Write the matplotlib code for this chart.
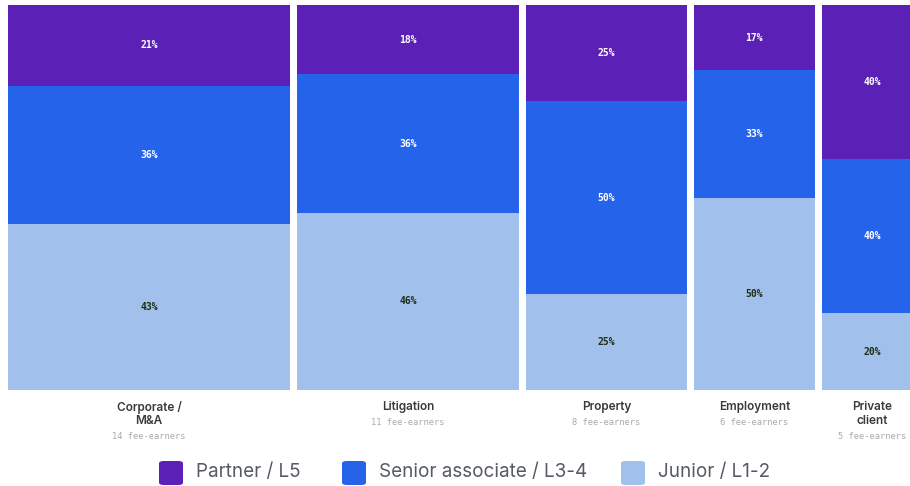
import matplotlib
import matplotlib.pyplot as plt
from matplotlib.patches import FancyBboxPatch

# practice areas, headcount and seniority mix (%)
areas = ["Corporate /\nM&A", "Litigation", "Property", "Employment", "Private\nclient"]
fee_earners = [14, 11, 8, 6, 5]
partner = [21, 18, 25, 17, 40]
senior = [36, 36, 50, 33, 40]
junior = [43, 46, 25, 50, 20]

levels = ["Partner / L5", "Senior associate / L3-4", "Junior / L1-2"]
colors = ["#5b21b6", "#2563eb", "#a1c0ec"]
text_colors = ["white", "white", "#1f2e12"]

W, H = 910, 486
fig = plt.figure(figsize=(W / 100, H / 100), dpi=100)
ax = fig.add_axes([8 / W, (H - 390) / H, (W - 8) / W, 385 / H])

unit = 20.15  # px per fee-earner
gap = 7 / unit
ax.set_xlim(0, (W - 8) / unit)
ax.set_ylim(0, 100)
ax.axis("off")

x = 0
for i, area in enumerate(areas):
    w = fee_earners[i]
    segs = [junior[i], senior[i], partner[i]]
    cols = colors[::-1]
    tcols = text_colors[::-1]
    bottom = 0
    for v, c, tc in zip(segs, cols, tcols):
        ax.bar(x, v, width=w, bottom=bottom, align="edge", color=c, linewidth=0)
        ax.text(x + w / 2, bottom + v / 2, f"{v}%", ha="center", va="center",
                color=tc, fontsize=7, fontweight="bold", family="DejaVu Sans Mono")
        bottom += v

    # labels under each column
    cx_px = 8 + (x + w / 2) * unit
    lines = area.split("\n")
    for j, line in enumerate(lines):
        fig.text(cx_px / W, 1 - (407 + 14 * j) / H, line, ha="center", va="center",
                 fontsize=8.5, fontweight="semibold", color="#3a3a3a", family="Inter")
    fig.text(cx_px / W, 1 - (407 + 14 * len(lines) + 1) / H, f"{fee_earners[i]} fee-earners",
             ha="center", va="center", fontsize=6.3, color="#aaaaaa", family="DejaVu Sans Mono")
    x += w + gap

# legend
leg_x = [159, 342, 621]
for lx, lab, c in zip(leg_x, levels, colors):
    box = FancyBboxPatch((lx / W, 1 - 485 / H), 24 / W, 24 / H,
                         boxstyle="round,pad=0,rounding_size=0.005",
                         transform=fig.transFigure, color=c, linewidth=0)
    fig.patches.append(box)
    fig.text((lx + 37) / W, 1 - 472 / H, lab, ha="left", va="center",
             fontsize=13.6, color="#555a63", family="Inter")

plt.savefig("out.png", dpi=100)
